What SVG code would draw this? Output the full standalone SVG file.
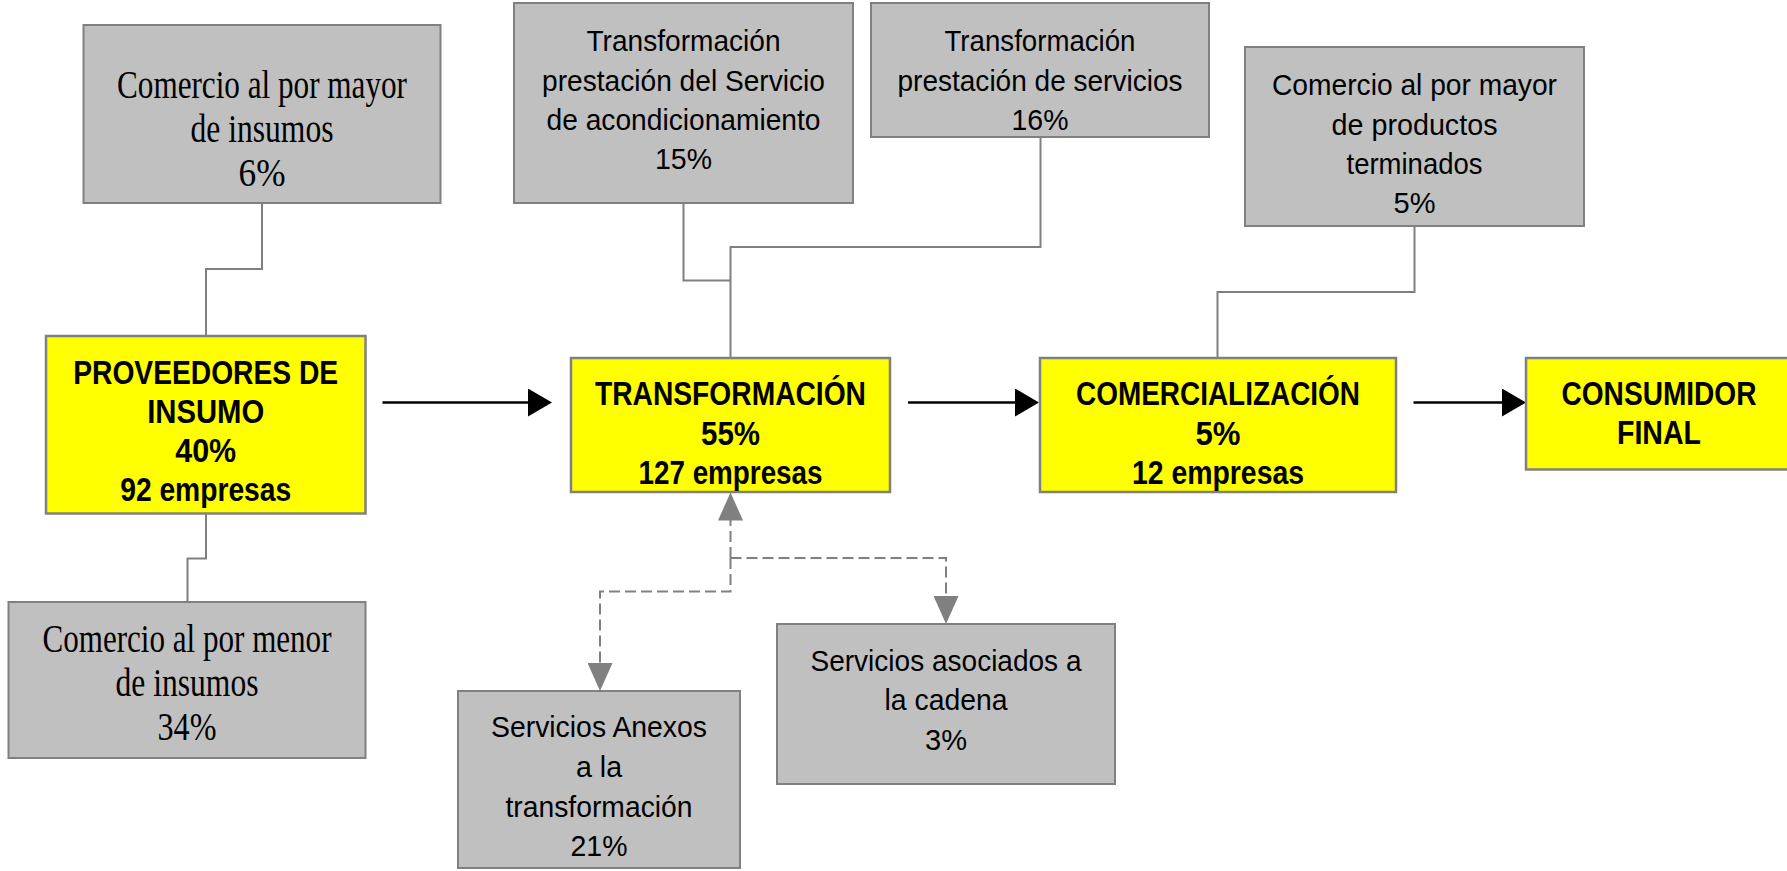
<svg xmlns="http://www.w3.org/2000/svg" width="1787" height="871" viewBox="0 0 1787 871">
<style>
.bg{fill:#ffffff}
.gbox{fill:#c0c0c0;stroke:#808080;stroke-width:2}
.ybox{fill:#ffff00;stroke:#808080;stroke-width:2.5}
.tr{font-family:"Liberation Serif","Times New Roman",serif;font-size:40px;fill:#000;text-anchor:middle}
.ts{font-family:"Liberation Sans",Arial,sans-serif;font-size:30px;fill:#000;text-anchor:middle}
.tb{font-family:"Liberation Sans",Arial,sans-serif;font-size:33px;font-weight:bold;fill:#000;text-anchor:middle}
.conn{fill:none;stroke:#808080;stroke-width:2}
.dash{fill:none;stroke:#808080;stroke-width:2;stroke-dasharray:11 5}
.flow{fill:none;stroke:#000;stroke-width:2.5}
</style>
<defs>
<marker id="ah" viewBox="0 0 24 28" refX="2" refY="14" markerWidth="24" markerHeight="28" markerUnits="userSpaceOnUse" orient="auto">
<path d="M0,0 L24,14 L0,28 Z" fill="#000"/>
</marker>
<marker id="gh" viewBox="0 0 28 25" refX="2" refY="12.5" markerWidth="28" markerHeight="25" markerUnits="userSpaceOnUse" orient="auto">
<path d="M0,0 L28,12.5 L0,25 Z" fill="#808080"/>
</marker>
</defs>
<rect class="bg" x="0" y="0" width="1787" height="871"/>

<g id="connectors">
<path class="conn" d="M262 203 V269 H206 V336"/>
<path class="conn" d="M206 513 V558.5 H187.5 V602"/>
<path class="conn" d="M683.5 203 V280.5 H730.5"/>
<path class="conn" d="M1040.5 137 V247 H730.5 V358"/>
<path class="conn" d="M1414.5 226 V292 H1217.5 V358"/>
<path class="flow" d="M382.5 402.5 H530" marker-end="url(#ah)"/>
<path class="flow" d="M908 402.5 H1017" marker-end="url(#ah)"/>
<path class="flow" d="M1413.5 402.5 H1504" marker-end="url(#ah)"/>
<path class="dash" d="M730.5 558 V518.5" marker-end="url(#gh)"/>
<path class="dash" d="M730.5 558 H946 V598" marker-end="url(#gh)"/>
<path class="dash" d="M730.5 558 V591.5 H600 V665" marker-end="url(#gh)"/>
</g>

<g id="node-mayor-insumos">
<rect class="gbox" x="83.5" y="25" width="357" height="178"/>
<text class="tr" x="262" y="98" textLength="290" lengthAdjust="spacingAndGlyphs">Comercio al por mayor</text>
<text class="tr" x="262" y="142" textLength="143" lengthAdjust="spacingAndGlyphs">de insumos</text>
<text class="tr" x="262" y="186" textLength="47" lengthAdjust="spacingAndGlyphs">6%</text>
</g>

<g id="node-acondicionamiento">
<rect class="gbox" x="514" y="3" width="339" height="200"/>
<text class="ts" x="683.5" y="51" textLength="194" lengthAdjust="spacingAndGlyphs">Transformación</text>
<text class="ts" x="683.5" y="90.5" textLength="283" lengthAdjust="spacingAndGlyphs">prestación del Servicio</text>
<text class="ts" x="683.5" y="129.5" textLength="274" lengthAdjust="spacingAndGlyphs">de acondicionamiento</text>
<text class="ts" x="683.5" y="169" textLength="57" lengthAdjust="spacingAndGlyphs">15%</text>
</g>

<g id="node-servicios">
<rect class="gbox" x="871" y="3" width="338" height="134"/>
<text class="ts" x="1040" y="51" textLength="191" lengthAdjust="spacingAndGlyphs">Transformación</text>
<text class="ts" x="1040" y="90.5" textLength="285" lengthAdjust="spacingAndGlyphs">prestación de servicios</text>
<text class="ts" x="1040" y="130" textLength="57" lengthAdjust="spacingAndGlyphs">16%</text>
</g>

<g id="node-mayor-productos">
<rect class="gbox" x="1245" y="47" width="339" height="179"/>
<text class="ts" x="1414.5" y="95" textLength="285" lengthAdjust="spacingAndGlyphs">Comercio al por mayor</text>
<text class="ts" x="1414.5" y="134.5" textLength="166" lengthAdjust="spacingAndGlyphs">de productos</text>
<text class="ts" x="1414.5" y="174" textLength="136" lengthAdjust="spacingAndGlyphs">terminados</text>
<text class="ts" x="1414.5" y="213" textLength="42" lengthAdjust="spacingAndGlyphs">5%</text>
</g>

<g id="node-proveedores">
<rect class="ybox" x="46" y="336" width="319.5" height="177.5"/>
<text class="tb" x="205.7" y="384" textLength="265" lengthAdjust="spacingAndGlyphs">PROVEEDORES DE</text>
<text class="tb" x="205.7" y="423" textLength="117" lengthAdjust="spacingAndGlyphs">INSUMO</text>
<text class="tb" x="205.7" y="462" textLength="61" lengthAdjust="spacingAndGlyphs">40%</text>
<text class="tb" x="205.7" y="501" textLength="171" lengthAdjust="spacingAndGlyphs">92 empresas</text>
</g>

<g id="node-transformacion">
<rect class="ybox" x="571" y="358" width="319" height="134"/>
<text class="tb" x="730.5" y="405" textLength="271" lengthAdjust="spacingAndGlyphs">TRANSFORMACIÓN</text>
<text class="tb" x="730.5" y="444.5" textLength="59" lengthAdjust="spacingAndGlyphs">55%</text>
<text class="tb" x="730.5" y="484" textLength="184" lengthAdjust="spacingAndGlyphs">127 empresas</text>
</g>

<g id="node-comercializacion">
<rect class="ybox" x="1040" y="358" width="356" height="134"/>
<text class="tb" x="1218" y="405" textLength="284" lengthAdjust="spacingAndGlyphs">COMERCIALIZACIÓN</text>
<text class="tb" x="1218" y="444.5" textLength="45" lengthAdjust="spacingAndGlyphs">5%</text>
<text class="tb" x="1218" y="484" textLength="172" lengthAdjust="spacingAndGlyphs">12 empresas</text>
</g>

<g id="node-consumidor">
<rect class="ybox" x="1526" y="358" width="266" height="111.5"/>
<text class="tb" x="1659" y="405" textLength="195" lengthAdjust="spacingAndGlyphs">CONSUMIDOR</text>
<text class="tb" x="1659" y="444" textLength="84" lengthAdjust="spacingAndGlyphs">FINAL</text>
</g>

<g id="node-menor-insumos">
<rect class="gbox" x="8.5" y="602" width="357" height="156"/>
<text class="tr" x="187" y="651.5" textLength="289" lengthAdjust="spacingAndGlyphs">Comercio al por menor</text>
<text class="tr" x="187" y="695.5" textLength="143" lengthAdjust="spacingAndGlyphs">de insumos</text>
<text class="tr" x="187" y="739.5" textLength="59" lengthAdjust="spacingAndGlyphs">34%</text>
</g>

<g id="node-anexos">
<rect class="gbox" x="458" y="691" width="282" height="177"/>
<text class="ts" x="599" y="737" textLength="216" lengthAdjust="spacingAndGlyphs">Servicios Anexos</text>
<text class="ts" x="599" y="776.5" textLength="46" lengthAdjust="spacingAndGlyphs">a la</text>
<text class="ts" x="599" y="816.5" textLength="187" lengthAdjust="spacingAndGlyphs">transformación</text>
<text class="ts" x="599" y="856" textLength="57" lengthAdjust="spacingAndGlyphs">21%</text>
</g>

<g id="node-asociados">
<rect class="gbox" x="777" y="624" width="338" height="160"/>
<text class="ts" x="946" y="671" textLength="271" lengthAdjust="spacingAndGlyphs">Servicios asociados a</text>
<text class="ts" x="946" y="710" textLength="123" lengthAdjust="spacingAndGlyphs">la cadena</text>
<text class="ts" x="946" y="749.5" textLength="42" lengthAdjust="spacingAndGlyphs">3%</text>
</g>
</svg>
